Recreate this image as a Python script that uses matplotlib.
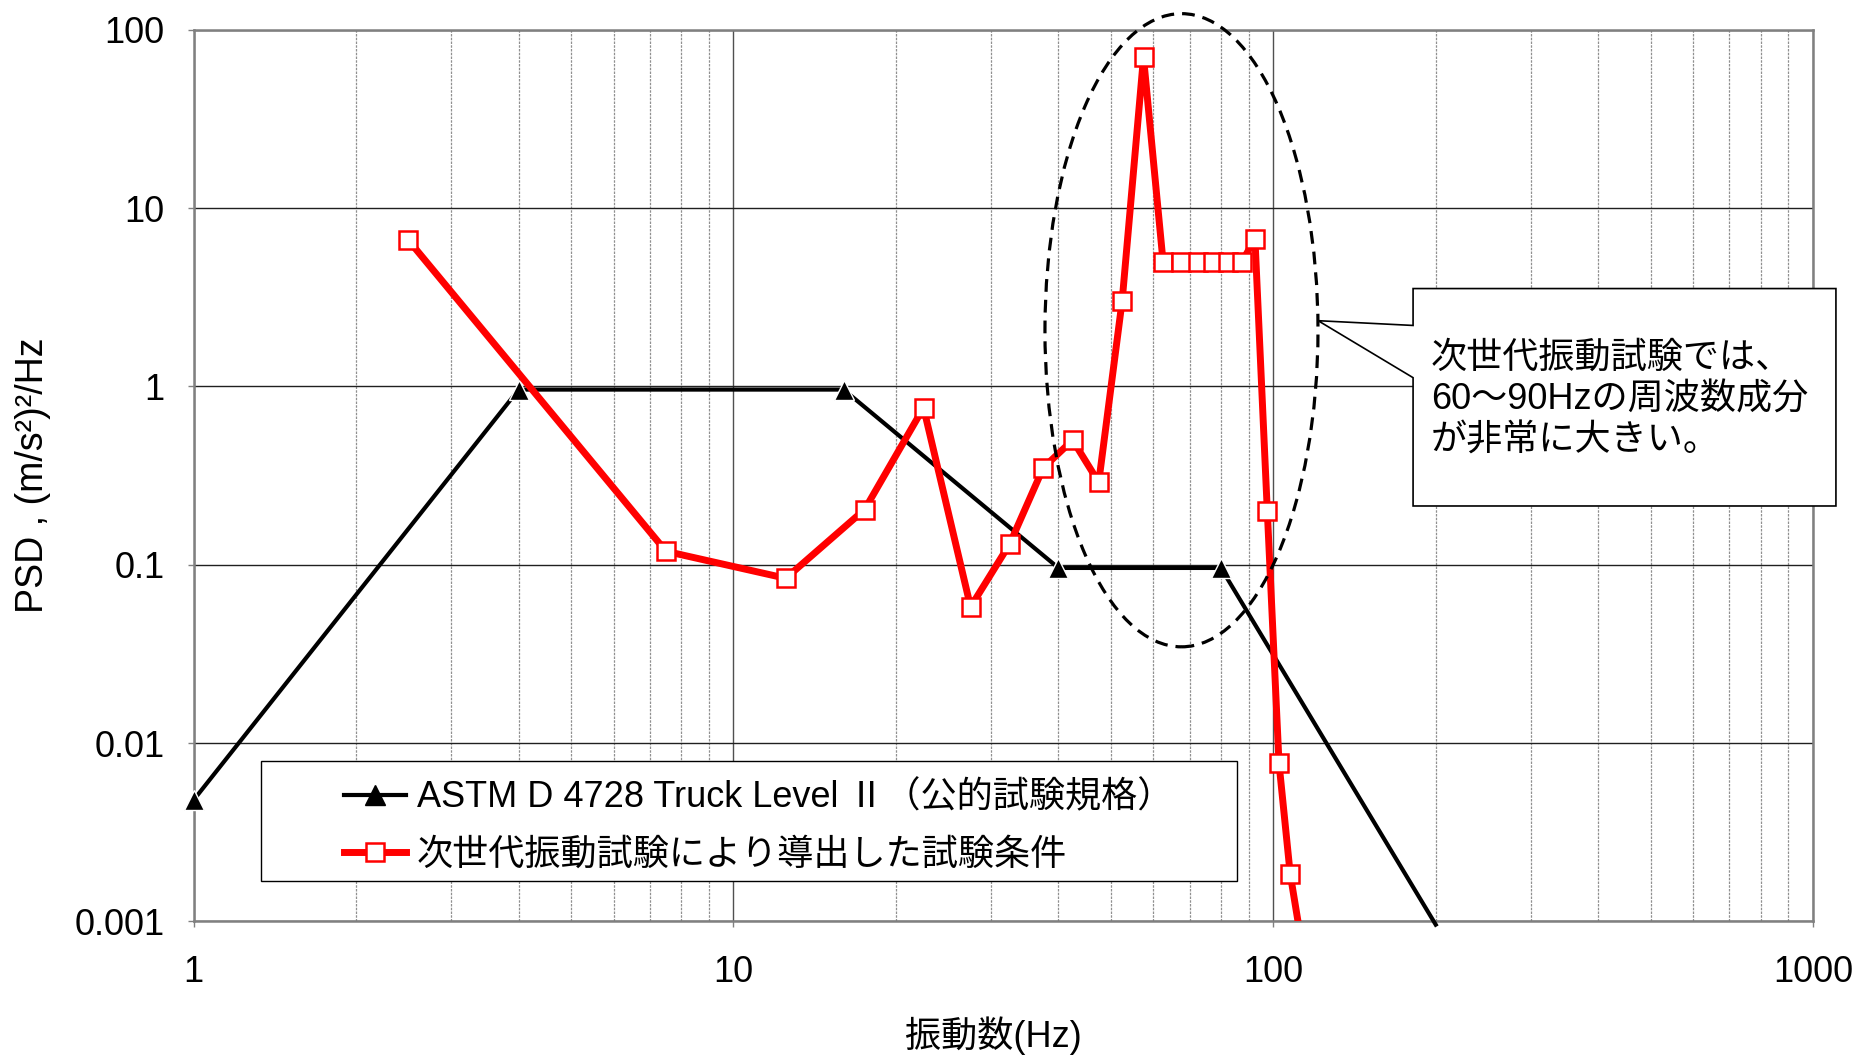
import matplotlib
matplotlib.use("Agg")
import matplotlib.pyplot as plt
from matplotlib.patches import Ellipse, Polygon, Rectangle
from matplotlib.ticker import LogLocator, NullFormatter, FixedLocator
from matplotlib.lines import Line2D

plt.rcParams['font.family'] = ['Liberation Sans', 'Noto Sans CJK JP', 'DejaVu Sans']

# ---------------- data ----------------
astm_freq = [1, 4, 16, 40, 80, 200]
astm_psd = [0.0048, 0.96, 0.96, 0.096, 0.096, 0.00096]

next_freq = [2.5, 7.5, 12.5, 17.5, 22.5, 27.5, 32.5, 37.5, 42.5, 47.5, 52.5,
             57.5, 62.5, 67.5, 72.5, 77.5, 82.5, 87.5, 92.5, 97.5, 102.5,
             107.5, 112.5]
next_psd = [6.6, 0.119, 0.084, 0.204, 0.76, 0.058, 0.131, 0.35, 0.50, 0.29,
            3.03, 70, 5.0, 5.0, 5.0, 5.0, 5.0, 5.0, 6.7, 0.20, 0.0077,
            0.00185, 0.0008]

x_ticks = [1, 10, 100, 1000]
x_ticklabels = ['1', '10', '100', '1000']
y_ticks = [0.001, 0.01, 0.1, 1, 10, 100]
y_ticklabels = ['0.001', '0.01', '0.1', '1', '10', '100']

label_astm = 'ASTM D 4728 Truck Level Ⅱ（公的試験規格）'
label_next = '次世代振動試験により導出した試験条件'
xlabel = '振動数(Hz)'
ylabel = 'PSD , (m/s²)²/Hz'
callout = '次世代振動試験では、\n60～90Hzの周波数成分\nが非常に大きい。'

# ---------------- figure ----------------
fig = plt.figure(figsize=(18.62, 10.57), dpi=100)
ax = fig.add_axes([0.1040, 0.1282, 0.8697, 0.8437])
ax.set_xscale('log')
ax.set_yscale('log')
ax.set_xlim(1, 1000)
ax.set_ylim(0.001, 100)

ax.xaxis.set_major_locator(FixedLocator(x_ticks))
ax.set_xticklabels(x_ticklabels)
ax.xaxis.set_minor_locator(LogLocator(base=10, subs=range(2, 10)))
ax.xaxis.set_minor_formatter(NullFormatter())
ax.yaxis.set_major_locator(FixedLocator(y_ticks))
ax.set_yticklabels(y_ticklabels)
ax.yaxis.set_minor_locator(FixedLocator([]))

ax.tick_params(which='major', length=4, width=1, color='#808080', labelsize=26)
ax.tick_params(axis='x', which='major', pad=20)
ax.tick_params(axis='y', which='major', pad=17)
ax.tick_params(which='minor', length=0)

ax.grid(which='major', axis='y', color='#202020', lw=1.0)
ax.grid(which='major', axis='x', color='#505050', lw=1.0)
ax.grid(which='minor', axis='x', color='#909090', lw=0.9, ls=(0, (2, 1)))
ax.set_axisbelow(True)
for s in ax.spines.values():
    s.set_color('#808080')
    s.set_linewidth(1.8)

ax.plot(astm_freq, astm_psd, color='black', lw=3.0, marker='^', ms=15,
        mfc='black', mec='white', mew=1.0, markevery=[0, 1, 2, 3, 4],
        clip_on=False, zorder=3)
ax.plot(next_freq, next_psd, color='#ff0000', lw=5.0, marker='s', ms=12.5,
        mfc='white', mec='#ff0000', mew=1.8, clip_on=True, zorder=4)

ax.set_xlabel(xlabel, fontsize=26, va='center')
ax.xaxis.set_label_coords(0.494, -0.128)
ax.set_ylabel(ylabel, fontsize=27, va='center')
ax.yaxis.set_label_coords(-0.099, 0.5)

# dashed ellipse highlighting 60-90 Hz
ax.add_patch(Ellipse((0.610, 0.663), 0.1686, 0.71, transform=ax.transAxes,
                     fill=False, ls=(0, (4, 2.5)), lw=2.3, color='black',
                     clip_on=False, zorder=5))

# callout box
x0, x1, yt, yb = 0.7589, 0.9860, 0.7270, 0.5213
callout_poly = Polygon([(x0, yt), (x1, yt), (x1, yb), (x0, yb), (x0, 0.6427),
                        (0.7079, 0.6966), (x0, 0.6921)], closed=True,
                       transform=fig.transFigure, facecolor='white',
                       edgecolor='black', lw=1.2, zorder=6)
fig.patches.append(callout_poly)
fig.text(0.7685, 0.6215, callout, fontsize=26, ha='left', va='center',
         linespacing=1.24, zorder=7)

# legend box
fig.patches.append(Rectangle((0.1403, 0.1665), 0.5243, 0.1135,
                             transform=fig.transFigure, facecolor='white',
                             edgecolor='black', lw=1.0, zorder=6))
handles = [Line2D([], [], color='black', lw=3.0, marker='^', ms=15, mfc='black',
                  mec='black'),
           Line2D([], [], color='#ff0000', lw=5.0, marker='s', ms=12.5,
                  mfc='white', mec='#ff0000', mew=1.8)]
leg = fig.legend(handles, [label_astm, label_next], loc='upper left',
                 bbox_to_anchor=(0.1849, 0.2615), bbox_transform=fig.transFigure,
                 frameon=False, borderpad=0, borderaxespad=0, fontsize=26,
                 handlelength=1.7, handletextpad=0.3, labelspacing=0.62,
                 numpoints=1)
leg.set_zorder(8)

fig.savefig('out.png', dpi=100)
